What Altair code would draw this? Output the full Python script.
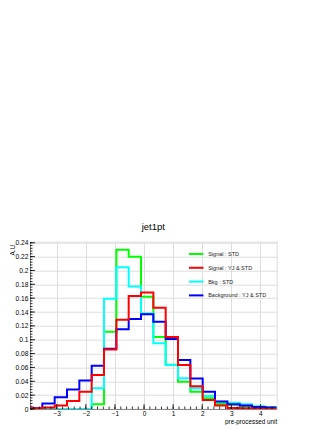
import altair as alt
import pandas as pd
import numpy as np

# ---- data ----
bin_edges = [-3.92, -3.496, -3.072, -2.648, -2.224, -1.8, -1.376, -0.952, -0.528, -0.104,
             0.32, 0.744, 1.168, 1.592, 2.016, 2.44, 2.864, 3.288, 3.712, 4.136, 4.56]

series_names = ["Signal : STD", "Signal : YJ & STD", "Bkg : STD", "Background : YJ & STD"]
series_colors = ["#00ff00", "#ff0000", "#00ffff", "#0000ff"]

signal_std = [0, 0, 0, 0, 0, 0.007, 0.1115, 0.230, 0.2198, 0.162,
              0.104, 0.064, 0.0394, 0.025, 0.0154, 0.0072, 0.006, 0.004, 0.0025, 0.002]
signal_yj = [0.001, 0.002, 0.005, 0.0115, 0.025, 0.049, 0.086, 0.129, 0.163, 0.168,
             0.146, 0.104, 0.0635, 0.033, 0.013, 0.005, 0.0015, 0.001, 0.0005, 0.0003]
bkg_std = [0, 0, 0, 0, 0, 0.030, 0.159, 0.2045, 0.177, 0.138,
           0.095, 0.0635, 0.0443, 0.030, 0.0188, 0.0105, 0.009, 0.0068, 0.004, 0.003]
bkg_yj = [0.001, 0.008, 0.017, 0.028, 0.041, 0.0625, 0.087, 0.115, 0.130, 0.1366,
          0.126, 0.101, 0.0707, 0.044, 0.025, 0.011, 0.007, 0.005, 0.003, 0.002]

y_ticks = [0, 0.02, 0.04, 0.06, 0.08, 0.1, 0.12, 0.14, 0.16, 0.18, 0.2, 0.22, 0.24]
x_ticks = [-3, -2, -1, 0, 1, 2, 3, 4]
y_max = 0.2415

# ---- long table ----
rows = []
for name, vals in zip(series_names, [signal_std, signal_yj, bkg_std, bkg_yj]):
    for i, v in enumerate(vals):
        rows.append({"series": name, "x": bin_edges[i], "y": v, "order": i})
    rows.append({"series": name, "x": bin_edges[-1], "y": vals[-1], "order": len(vals)})
df = pd.DataFrame(rows)

W, H = 246.7, 167.3
FONT = "Liberation Sans"

xs = alt.Scale(domain=[bin_edges[0], bin_edges[-1]], nice=False, zero=False)
ys = alt.Scale(domain=[0, y_max], nice=False, zero=True)
cs = alt.Scale(domain=series_names, range=series_colors)

x_axis = alt.Axis(values=x_ticks, format="d", title="pre-processed unit", ticks=False,
                  labelPadding=1.5, labelFontSize=6.5, titleFontSize=6.3,
                  titleFontWeight="normal", titleAnchor="end", titleAlign="right",
                  titleX=W, titleY=12.2, titleBaseline="middle")
y_axis = alt.Axis(values=y_ticks, format="~g", title="A.U.", ticks=False,
                  labelPadding=2, labelFontSize=6.7, titleFontSize=6.3,
                  titleFontWeight="normal", titleAngle=270, titleAlign="right",
                  titleBaseline="middle", titleX=-18, titleY=1)

legend = alt.Legend(title=None, orient="none", legendX=157.7, legendY=3.8,
                    symbolType="stroke", symbolSize=210, symbolStrokeWidth=2,
                    labelFontSize=5.5, labelFont=FONT, labelColor="#222",
                    labelOffset=3.5, rowPadding=0.8, padding=0)


def hist(name):
    return alt.Chart(df).transform_filter(alt.datum.series == name).mark_line(
        interpolate="step-after", strokeWidth=2, clip=True
    ).encode(
        x=alt.X("x:Q", scale=xs, axis=x_axis),
        y=alt.Y("y:Q", scale=ys, axis=y_axis),
        color=alt.Color("series:N", scale=cs, legend=legend),
        order="order:Q",
    )


# inner tick marks (ROOT style)
y_major = pd.DataFrame({"v": y_ticks})
y_minor = pd.DataFrame({"v": np.round(np.arange(0, y_max, 0.004), 4)})
x_major = pd.DataFrame({"v": x_ticks})
x_minor = pd.DataFrame({"v": np.round(np.arange(-3.8, 4.56, 0.2), 2)})

ytick_major = alt.Chart(y_major).mark_rule(color="black", strokeWidth=0.8).encode(
    y=alt.Y("v:Q", scale=ys, axis=y_axis), x=alt.value(0), x2=alt.value(5))
ytick_minor = alt.Chart(y_minor).mark_rule(color="black", strokeWidth=0.8).encode(
    y=alt.Y("v:Q", scale=ys, axis=y_axis), x=alt.value(0), x2=alt.value(2.5))
xtick_major = alt.Chart(x_major).mark_rule(color="black", strokeWidth=0.8).encode(
    x=alt.X("v:Q", scale=xs, axis=x_axis), y=alt.value(H), y2=alt.value(H - 5))
xtick_minor = alt.Chart(x_minor).mark_rule(color="black", strokeWidth=0.8).encode(
    x=alt.X("v:Q", scale=xs, axis=x_axis), y=alt.value(H), y2=alt.value(H - 2.5))

chart = alt.layer(
    hist(series_names[0]),
    hist(series_names[2]),
    hist(series_names[3]),
    hist(series_names[1]),
    ytick_major, ytick_minor, xtick_major, xtick_minor,
).properties(
    width=W, height=H,
    title=alt.TitleParams("jet1pt", fontSize=9.5, font=FONT, fontWeight="normal",
                          anchor="middle", baseline="alphabetic", offset=0, color="black"),
    autosize=alt.AutoSizeParams(type="none"),
    padding={"left": 22, "top": 233.7, "right": 47.3, "bottom": 16},
).configure_view(
    stroke="black", strokeWidth=1
).configure_axis(
    grid=True, gridColor="#888888", gridDash=[2, 1.5], gridWidth=0.7,
    domainColor="black", domainWidth=1, labelFont=FONT, titleFont=FONT,
    labelColor="black", titleColor="black"
).configure(background="white")

chart.save("out.html", embed_options={"renderer": "svg", "actions": False})
